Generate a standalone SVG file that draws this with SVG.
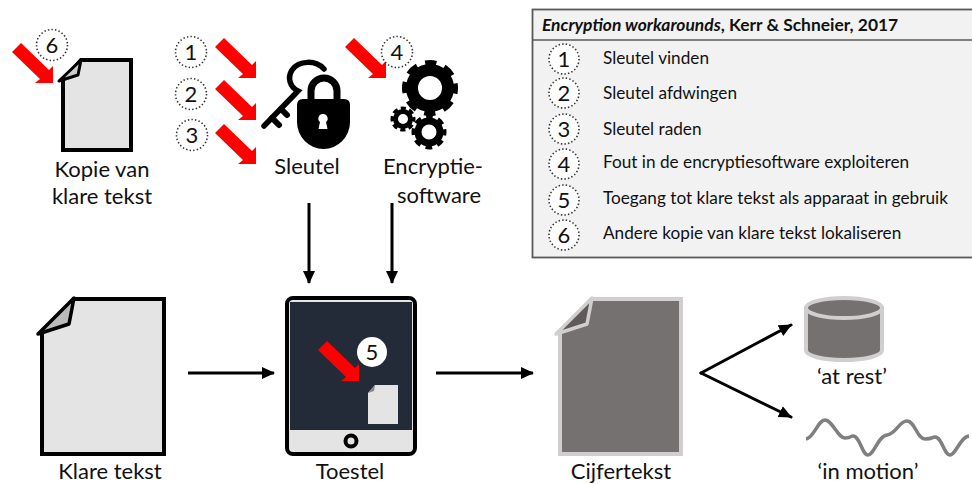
<svg xmlns="http://www.w3.org/2000/svg" width="972" height="484" viewBox="0 0 972 484">
<style>
text{font-family:"Lato","Open Sans","Liberation Sans",sans-serif;fill:#111}
.l{font-size:22px;text-anchor:middle}
.n{font-size:22px;text-anchor:middle}
.r{font-size:17.200px}
.c{fill:#fff;stroke:#333;stroke-width:1.6;stroke-dasharray:1.4 2.2}
.a{fill:none;stroke:#000;stroke-width:3}
.doc{fill:#e4e4e4;stroke:#000;stroke-width:4}
</style>
<defs>
<path id="red" d="M0 0H-18L-13-4-41-31-32-40-4-13 0-17Z" fill="#f00"/>
<marker id="h" markerUnits="userSpaceOnUse" markerWidth="13" markerHeight="14" refX="12" refY="7" orient="auto"><path d="M0 1L13 7 0 13Z" fill="#000"/></marker>
</defs>
<rect width="972" height="484" fill="#fff"/>
<g id="panel">
<rect x="532.500" y="9.500" width="445" height="248" fill="#f2f2f2" stroke="#595959" stroke-width="1.800"/>
<path d="M532 40H972" stroke="#595959" stroke-width="1.500"/>
<text x="542" y="31" font-size="17.400" font-weight="700"><tspan font-style="italic">Encryption workarounds</tspan>, Kerr &amp; Schneier, 2017</text>
<circle class="c" cx="564" cy="59" r="15"/><text class="n" x="564" y="67">1</text>
<circle class="c" cx="564" cy="93" r="15"/><text class="n" x="564" y="101">2</text>
<circle class="c" cx="564" cy="129" r="15"/><text class="n" x="564" y="137">3</text>
<circle class="c" cx="564" cy="164" r="15"/><text class="n" x="564" y="172">4</text>
<circle class="c" cx="564" cy="200" r="15"/><text class="n" x="564" y="208">5</text>
<circle class="c" cx="564" cy="235" r="15"/><text class="n" x="564" y="243">6</text>
<text class="r" x="603" y="64">Sleutel vinden</text>
<text class="r" x="603" y="99">Sleutel afdwingen</text>
<text class="r" x="603" y="135">Sleutel raden</text>
<text class="r" x="603" y="168">Fout in de encryptiesoftware exploiteren</text>
<text class="r" x="603" y="204">Toegang tot klare tekst als apparaat in gebruik</text>
<text class="r" x="603" y="239">Andere kopie van klare tekst lokaliseren</text>
</g>
<g id="connectors">
<path class="a" marker-end="url(#h)" d="M309 203V283"/>
<path class="a" marker-end="url(#h)" d="M392 203V283"/>
<path class="a" marker-end="url(#h)" d="M188 373H274"/>
<path class="a" marker-end="url(#h)" d="M436 373H533"/>
<path class="a" marker-end="url(#h)" stroke-linecap="round" d="M701 373L791 325"/>
<path class="a" marker-end="url(#h)" stroke-linecap="round" d="M701 373L791 417"/>
</g>
<g id="kopie">
<path class="doc" d="M81 60H131V150H63V80Z"/>
<path d="M59 81L81 60 78 75Z" fill="#ccc" stroke="#000" stroke-width="3" stroke-linejoin="round"/>
<text class="l" x="102" y="177">Kopie van</text>
<text class="l" x="102" y="204">klare tekst</text>
<use href="#red" x="53" y="83"/>
<circle class="c" cx="52" cy="45" r="15.500"/><text class="n" x="52" y="53">6</text>
</g>
<g id="sleutel">
<use href="#red" x="256" y="78"/><use href="#red" x="256" y="120"/><use href="#red" x="256" y="164"/>
<circle class="c" cx="191" cy="52" r="15.500"/><text class="n" x="191" y="60">1</text>
<circle class="c" cx="191" cy="94" r="15.500"/><text class="n" x="191" y="102">2</text>
<circle class="c" cx="192" cy="135" r="15.500"/><text class="n" x="192" y="143">3</text>
<path d="M324 69C316 60 299 60 292 70 287 78 290 87 298 91L264 126" fill="none" stroke="#000" stroke-width="5.500" stroke-linecap="round"/>
<path d="M272 118L279 125M281 109L287 115" stroke="#000" stroke-width="6" stroke-linecap="round"/>
<path d="M311 101V91A13 13 0 0 1 337 91V101" fill="none" stroke="#000" stroke-width="7"/>
<path d="M303 99H344Q350 99 350 105V122A26.500 27 0 0 1 297 122V105Q297 99 303 99Z"/>
<path d="M323 114a4.500 4.500 0 0 1 3 8l1.500 7h-9l1.500-7a4.500 4.500 0 0 1 3-8Z" fill="#fff"/>
<text class="l" x="307" y="174">Sleutel</text>
</g>
<g id="software">
<use href="#red" x="386" y="78"/>
<circle class="c" cx="397" cy="52" r="15.500"/><text class="n" x="397" y="60">4</text>
<g fill="none" stroke="#000">
<circle cx="430" cy="88" r="18" stroke-width="12"/>
<circle cx="430" cy="88" r="24.500" stroke-width="7" stroke-dasharray="11 8.240" stroke-dashoffset="5.500"/>
<circle cx="403" cy="119" r="7.500" stroke-width="5"/>
<circle cx="403" cy="119" r="10.500" stroke-width="4" stroke-dasharray="5 3.250" stroke-dashoffset="2.500"/>
<circle cx="429" cy="132" r="11" stroke-width="7"/>
<circle cx="429" cy="132" r="15" stroke-width="5" stroke-dasharray="6.500 5.280" stroke-dashoffset="3.250"/>
</g>
<text class="l" x="433" y="174">Encryptie-</text>
<text class="l" x="439" y="203">software</text>
</g>
<g id="klare">
<path class="doc" d="M74 299H164V454H42V333Z"/>
<path d="M38 334L74 298 69 324Z" fill="#bbb" stroke="#000" stroke-width="3.500" stroke-linejoin="round"/>
<text class="l" x="110" y="479">Klare tekst</text>
</g>
<g id="toestel">
<rect x="287" y="298" width="128" height="156" rx="6" fill="#e4e4e4" stroke="#000" stroke-width="4"/>
<rect x="290" y="302" width="122" height="128" fill="#232b38"/>
<circle cx="351" cy="441" r="5.500" fill="none" stroke="#000" stroke-width="4"/>
<path d="M375 385H398V424H368V393Z" fill="#e4e4e4"/>
<path d="M368 393L375 385 374 391Z" fill="#888"/>
<use href="#red" x="359" y="381"/>
<circle cx="372" cy="352" r="15" fill="#fff"/><text class="n" x="372" y="360">5</text>
<text class="l" x="350" y="479">Toestel</text>
</g>
<g id="cijfer">
<path d="M592 299H681V454H560V333Z" fill="#767171" stroke="#d0cece" stroke-width="4"/>
<path d="M556 334L592 298 587 324Z" fill="#5f5b5b" stroke="#d0cece" stroke-width="3.500" stroke-linejoin="round"/>
<text class="l" x="621" y="479">Cijfertekst</text>
</g>
<g id="rest">
<path d="M806 308V350C806 356 823 360 844 360S882 356 882 350V308Z" fill="#767171" stroke="#d0cece" stroke-width="4"/>
<ellipse cx="844" cy="308" rx="38" ry="10" fill="#767171" stroke="#d0cece" stroke-width="4"/>
<text class="l" x="852" y="384">‘at rest’</text>
</g>
<g id="motion">
<path d="M806 439C814 438 818 420 825 420S838 438 845 438 850 436 853 436C860 436 862 455 868 455S878 436 887 435 899 421 907 421 917 439 925 439 932 437 935 437C942 437 944 455 950 455S960 437 969 436" fill="none" stroke="#7f7f7f" stroke-width="3.500"/>
<text class="l" x="868" y="479">‘in motion’</text>
</g>
</svg>
